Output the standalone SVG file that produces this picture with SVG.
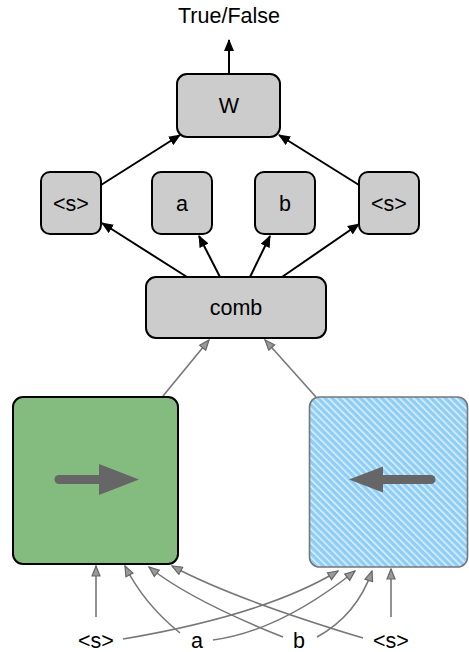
<svg xmlns="http://www.w3.org/2000/svg" width="469" height="652" viewBox="0 0 469 652">
<style>
.box{fill:#cccccc;stroke:#000;stroke-width:2}
.lbl{font-family:"Liberation Sans",Arial,sans-serif;font-size:21.5px;fill:#000;text-anchor:middle}
.blk{fill:none;stroke:#000;stroke-width:2;marker-end:url(#ab)}
.gry{fill:none;stroke:#777;stroke-width:1.6;marker-end:url(#ag)}
</style>
<defs>
<marker id="ab" markerWidth="12" markerHeight="11" viewBox="0 0 12 11" refX="11" refY="5.5" orient="auto" markerUnits="userSpaceOnUse">
<path d="M0,0.5 L12,5.5 L0,10.5 Z" fill="#000"/>
</marker>
<marker id="ag" markerWidth="12" markerHeight="10" viewBox="0 0 12 10" refX="11" refY="5" orient="auto" markerUnits="userSpaceOnUse">
<path d="M1,1 L11,5 L1,9 Z" fill="#999" stroke="#666" stroke-width="1.2"/>
</marker>
<pattern id="stripes" width="5" height="5" patternUnits="userSpaceOnUse" patternTransform="rotate(-45)">
<rect width="5" height="5" fill="#8fcdf6"/>
<rect x="0" y="0" width="1.6" height="5" fill="#d9f0fd"/>
</pattern>
</defs>

<g id="connectors">
<path class="blk" d="M229,74 L229,40"/>
<path class="blk" d="M101,185 L180,135"/>
<path class="blk" d="M359,185 L279,135"/>
<path class="blk" d="M187,277 L102,223"/>
<path class="blk" d="M220,277 L199,236"/>
<path class="blk" d="M250,277 L270,236"/>
<path class="blk" d="M282,277 L359,224"/>
<path class="gry" d="M163,396 L209,340"/>
<path class="gry" d="M316,397 L265,340"/>
<path class="gry" d="M96,617 L96,566"/>
<path class="gry" d="M180,633 Q144,604 125,566"/>
<path class="gry" d="M283,637 Q190,600 149,567"/>
<path class="gry" d="M363,638 Q231,598 172,566"/>
<path class="gry" d="M123,639 Q265,615 338,571"/>
<path class="gry" d="M213,640 Q280,631 355,571"/>
<path class="gry" d="M317,637 Q357,615 372,571"/>
<path class="gry" d="M391,617 L391,569"/>
</g>

<g id="out"><text class="lbl" x="229" y="23">True/False</text></g>

<g id="W"><rect class="box" x="177" y="74" width="103" height="63" rx="10"/><text class="lbl" x="229" y="113">W</text></g>
<g id="sL"><rect class="box" x="41" y="172" width="60" height="62" rx="9"/><text class="lbl" x="71" y="211">&lt;s&gt;</text></g>
<g id="a"><rect class="box" x="152" y="172" width="60" height="62" rx="9"/><text class="lbl" x="182" y="211">a</text></g>
<g id="b"><rect class="box" x="255" y="172" width="60" height="62" rx="9"/><text class="lbl" x="285" y="211">b</text></g>
<g id="sR"><rect class="box" x="359" y="172" width="60" height="62" rx="9"/><text class="lbl" x="389" y="211">&lt;s&gt;</text></g>
<g id="comb"><rect class="box" x="146" y="277" width="180" height="61" rx="10"/><text class="lbl" x="236" y="315">comb</text></g>

<g id="fwd">
<rect x="13" y="397" width="165" height="167" rx="10" fill="#84bc7f" stroke="#000" stroke-width="2"/>
<line x1="59" y1="479.5" x2="102" y2="479.5" stroke="#666" stroke-width="9" stroke-linecap="round"/>
<path d="M99,464 L139,479.5 L99,495 Z" fill="#666"/>
</g>
<g id="bwd">
<rect x="309.5" y="397" width="158" height="170" rx="10" fill="url(#stripes)" stroke="#777" stroke-width="1.6"/>
<line x1="431" y1="479.5" x2="380" y2="479.5" stroke="#666" stroke-width="9" stroke-linecap="round"/>
<path d="M383,466.5 L349,479.5 L383,492.5 Z" fill="#666"/>
</g>

<g id="inputs">
<text class="lbl" x="96" y="648">&lt;s&gt;</text>
<text class="lbl" x="197" y="648">a</text>
<text class="lbl" x="299" y="648">b</text>
<text class="lbl" x="391" y="648">&lt;s&gt;</text>
</g>
</svg>
